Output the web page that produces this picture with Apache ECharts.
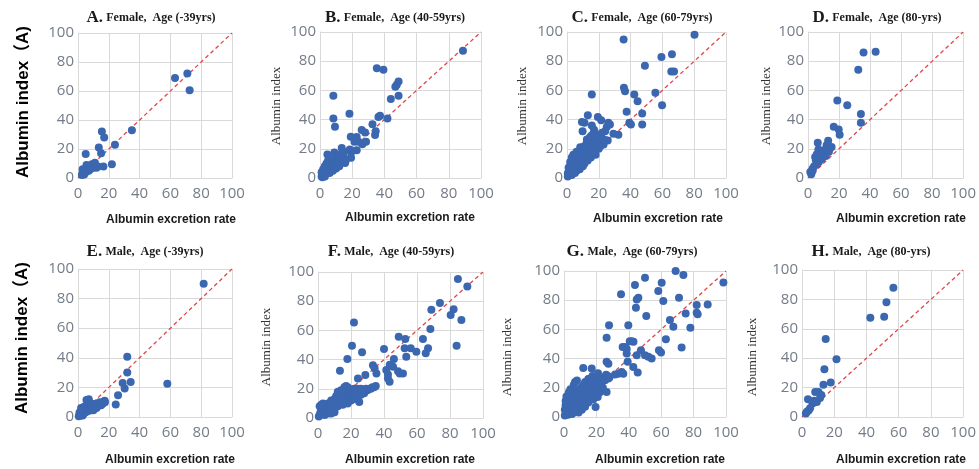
<!DOCTYPE html>
<html>
<head>
<meta charset="utf-8">
<script src="https://cdn.jsdelivr.net/npm/echarts@6/dist/echarts.min.js"></script>
<style>
  html, body { margin: 0; padding: 0; background: #fff; }
  #echart { width: 979px; height: 469px; }
</style>
</head>
<body>
<div id="echart"></div>
<script>
// panel titles
var panelLetters = ['A.', 'B.', 'C.', 'D.', 'E.', 'F.', 'G.', 'H.'];
var panelTitles = [
  'Female,  Age (-39yrs)', 'Female,  Age (40-59yrs)', 'Female,  Age (60-79yrs)', 'Female,  Age (80-yrs)',
  'Male,  Age (-39yrs)', 'Male,  Age (40-59yrs)', 'Male,  Age (60-79yrs)', 'Male,  Age (80-yrs)'
];
var axisTicks = [0, 20, 40, 60, 80, 100];
var identityLine = [[0, 0], [100, 100]];

// [albumin excretion rate, albumin index]
var femaleA = [[63, 69], [71, 72], [72.5, 60.5], [35, 33], [15.5, 32], [17, 28], [13.5, 21], [15, 17], [24, 23],
  [22, 9.5], [16.5, 8], [5, 16.5], [5.5, 9], [7, 8], [9, 9.5], [10.5, 9], [12, 7], [13, 8], [8, 6], [6, 5],
  [4, 5], [3, 3.5], [2.5, 2], [4, 2.5], [5, 4], [3, 6], [7, 5], [10, 7], [11, 10.5], [6, 7]];

var femaleB = [[88.8, 87.2], [35.3, 75.2], [39.4, 74.1], [48.8, 66.1], [47.7, 63.8], [46.8, 62.5], [48.8, 56.4],
  [44, 54.1], [8.3, 56.4], [8.3, 40.8], [9.3, 35.1], [18.3, 44], [37.3, 42.7], [36.3, 41.7], [41.9, 40.8],
  [32.6, 36.9], [25.9, 32.8], [28, 31.2], [34.6, 32.1], [34.2, 29.4], [19.1, 28.2], [22.8, 28], [21.4, 24.8],
  [23.9, 24.8], [26.3, 23.2], [28.6, 24.8], [19.3, 17.4], [22.8, 19], [18.5, 19.5], [4.6, 16.1], [8.9, 17.4],
  [13.5, 20.6], [14.5, 17.9], [10.4, 15.6], [15.6, 10.3], [19.3, 13.8],
  [1, 1], [1.5, 2.5], [2, 1.5], [2, 3.5], [2.5, 5], [3, 2], [3, 4], [3.5, 6], [4, 3], [4, 5], [4.5, 7.5], [5, 4],
  [5, 6], [5.5, 9], [6, 5], [6, 7], [6.5, 11], [7, 6], [7, 8.5], [7.5, 12], [8, 7], [8, 10], [8.5, 13], [9, 8],
  [9, 11], [9.5, 14.5], [10, 9], [10, 12], [11, 10], [11, 13], [11.5, 16], [12, 11], [12, 14], [13, 12], [13, 15],
  [14, 13], [14, 17], [15, 11], [15, 14], [16, 12], [3, 8], [4, 10], [5, 12], [2, 6], [1, 4], [6, 3.5], [8, 5],
  [10, 6.5], [12, 8], [1.5, 0.5], [3, 1]];

var femaleC = [[80.2, 98.2], [35.6, 94.9], [59.4, 82.8], [66, 84.8], [49, 76.8], [65.6, 72.9], [67.3, 72.9],
  [15.6, 57.2], [35.8, 61.8], [36.5, 59.5], [42.3, 57.2], [44.4, 52.6], [55.6, 58.4], [59.8, 49.9], [37.5, 45.3],
  [47.3, 44.1], [39.2, 37.9], [40.2, 36.6], [47.3, 36.6], [13.1, 43], [9.4, 38.4], [11, 37.9], [19.4, 41.8],
  [21.5, 39.5], [26, 37.9], [27, 36.6], [25, 35], [24, 32], [29.2, 30.3], [32.3, 29.7], [9.8, 32], [15.6, 36],
  [17, 33], [17.5, 31], [16.5, 28], [19.5, 29], [20.5, 25.5], [15.6, 29.2], [12.5, 26.4], [25.6, 25.7], [8.3, 21],
  [0.5, 1], [1, 2], [1, 4], [1.5, 6], [2, 3], [2, 8], [2.5, 10], [3, 2], [3, 5], [3, 12], [3.5, 7], [4, 4], [4, 9],
  [4.5, 14], [5, 3.5], [5, 6], [5, 11], [5.5, 16], [6, 5], [6, 8], [6.5, 13], [7, 7], [7, 10], [7.5, 18], [8, 6],
  [8, 12], [8.5, 15], [9, 9], [9, 20], [9.5, 11], [10, 8], [10, 14], [10.5, 17], [11, 10], [11, 22], [11.5, 13],
  [12, 16], [12, 19], [12.5, 25], [13, 12], [13, 21], [14, 15], [14, 18], [14.5, 28], [15, 14], [15, 24], [16, 17],
  [16, 20], [16.5, 30], [17, 19], [17, 23], [18, 16], [18, 26], [19, 21], [19, 29], [20, 20], [20, 24], [21, 22],
  [22, 27], [22, 31], [23, 23], [24, 26], [1, 7], [2, 11], [3, 14], [4, 16], [6, 18], [0.5, 3], [8, 9], [10, 11],
  [12, 13], [3, 9], [5, 8]];

var femaleD = [[35.8, 86], [43.6, 86.5], [32.4, 74.1], [18.9, 53], [25.3, 49.8], [34.1, 43.8], [34.1, 37.8],
  [16.6, 35.1], [19.8, 33.3], [20.4, 29.6], [6.3, 24.1], [13, 25.5], [15.2, 21.3], [14.1, 20.2], [12, 22.5],
  [9.9, 19], [7.8, 17.9], [5.7, 16.3], [4.6, 14.4], [8.8, 15.6], [10.9, 17.2], [6.7, 19.5], [5.1, 12.2],
  [5.7, 9.4], [2.9, 6.4], [1.5, 4.1], [2.1, 2.5], [11.5, 15], [13.5, 18], [9, 13], [7, 11], [4, 8], [3, 5]];

var maleE = [[81.6, 90], [32, 40.7], [32, 30], [29, 23], [30.3, 19.2], [34.2, 23.6], [58, 22.5], [26, 14.7],
  [24.5, 8.4], [5.5, 11.5], [17.3, 11],
  [0.5, 0.5], [1, 1.5], [1, 3], [1.5, 2], [2, 4], [2, 1], [2.5, 5], [3, 3], [3, 6], [3.5, 2], [4, 4], [4, 7],
  [4.5, 3], [5, 5], [5.5, 3.5], [6, 6], [6.5, 4], [7, 5], [7, 12], [7.5, 8], [8, 6], [8.5, 4.5], [9, 7], [9.5, 5],
  [10, 8], [10.5, 6], [11, 7], [11.5, 9], [12, 6], [12.5, 8], [13, 7.5], [14, 9], [15, 8], [16, 10], [17.5, 10],
  [16, 9], [3, 1], [2, 6], [6, 8], [8, 9.5], [12, 9], [14, 10], [10, 4.5]];

var maleF = [[84.8, 95.2], [90.5, 90.1], [73.9, 78.7], [68.7, 74.1], [82.2, 74.5], [80.4, 70.6], [86.9, 67.2],
  [68.1, 61], [84, 49.5], [63.6, 54.1], [66.7, 47.7], [65.3, 44.3], [48.9, 55.7], [52.9, 54.1], [52.5, 47.7],
  [56.2, 47.7], [59.6, 45.4], [53.5, 42], [40, 47.2], [21.8, 65.4], [20.6, 49.5], [26.7, 45], [17.8, 40.4],
  [13.3, 32.3], [33.3, 36.2], [34.3, 34], [35.4, 30.5], [41.4, 32.8], [42.4, 29.8], [46, 40.4], [45.5, 35.1],
  [43.5, 36.5], [48.5, 32], [49.5, 30.5], [42.4, 27], [43.4, 24.8], [51.5, 30.5], [28.7, 29.4], [24.2, 27],
  [0.5, 1], [1, 2], [1, 8], [1.5, 4], [2, 6], [2.5, 3], [3, 5], [3, 7.5], [4, 2], [4, 6], [4.5, 9], [5, 4], [5, 7],
  [6, 3], [6, 10], [6.5, 6], [7, 8], [7.5, 5], [8, 9], [8, 12], [9, 7], [9.5, 11], [10, 6], [10, 13], [11, 9],
  [11, 15], [12, 8], [12, 11], [13, 14], [13.5, 10], [14, 16], [14.5, 12], [15, 9], [15, 14], [16, 11], [16.5, 17],
  [17, 13], [17.5, 15], [18, 10], [18, 21], [19, 14], [19, 18], [20, 12], [20, 16], [21, 15], [21.5, 19], [22, 13],
  [23, 17], [24, 14], [24, 20], [25, 11], [26, 16], [27, 19], [28, 17], [29, 20], [30, 19], [31, 20], [32, 20],
  [33, 21], [34, 21], [35, 22], [16, 21], [14, 19], [12, 18], [8, 3], [10, 4], [2, 9], [3, 10], [22, 20],
  [20, 19.5], [17, 22], [26, 20]];

var maleG = [[68.9, 100], [73.7, 97.3], [50, 95.4], [60.3, 92], [98.4, 92.2], [43.8, 90.4], [35.2, 84],
  [45.9, 81.7], [44.9, 80.5], [58.2, 86.3], [61.3, 79.4], [71, 81.7], [44.4, 74.8], [81.9, 76.7], [88.7, 77.1],
  [82.5, 70.3], [81.9, 71.4], [75.1, 70.9], [50.8, 69.1], [65.4, 66.4], [67.5, 61.8], [78, 61.1], [27.8, 62.9],
  [39.7, 62.9], [26.3, 54.2], [41.8, 51.9], [40.6, 51.9], [42.9, 51.5], [37.7, 48], [38.7, 46.5], [36.2, 48],
  [47.5, 45.8], [38.7, 43.5], [58.6, 45.8], [59.9, 44.2], [62.9, 53.3], [72.6, 47.6], [50, 42.3], [52.1, 41.2],
  [54.1, 40], [44.9, 42.3], [39.3, 37.8], [42.8, 34.3], [45.5, 30.4], [26.3, 37.8], [27.4, 36.4], [35.6, 30.9],
  [36.6, 29.7], [33.5, 29.7], [31.5, 29.1], [27.4, 26.3], [25.3, 25.2], [11.9, 33.6], [17.1, 33.2], [6.8, 24],
  [19.5, 26.5], [21, 25.5], [15, 26], [22.2, 17.2], [20.8, 13.7], [19.5, 6.9], [26.3, 17.2],
  [0.5, 1], [0.5, 5], [1, 2], [1, 8], [1, 11], [1.5, 3], [1.5, 14], [2, 5], [2, 9], [2.5, 1.5], [2.5, 12], [3, 4],
  [3, 7], [3.5, 16], [4, 3], [4, 10], [4.5, 6], [5, 13], [5, 2], [5.5, 8], [6, 5], [6, 11], [6.5, 15], [7, 7],
  [7, 4], [7.5, 12], [8, 9], [8, 18], [9, 6], [9, 14], [9.5, 11], [10, 8], [10, 16], [10.5, 20], [11, 12], [11, 9],
  [12, 14], [12, 22], [12.5, 17], [13, 11], [13, 24], [14, 15], [14, 19], [15, 13], [15, 21], [15.5, 26], [16, 17],
  [16, 24], [17, 15], [17, 20], [17.5, 28], [18, 18], [18, 23], [19, 21], [19, 26], [20, 19], [20, 24], [21, 22],
  [21, 30], [22, 25], [23, 23], [24, 27], [25, 26], [26, 29], [27, 28], [28, 27], [6, 22], [8, 25], [4, 19],
  [3, 17], [2, 7], [9, 3], [11, 5], [13, 7], [15, 10], [18, 12], [22, 17], [24, 20]];

var maleH = [[56.7, 88], [52.4, 78], [51, 68.2], [42.4, 67.5], [14.7, 53], [21.4, 39.3], [13.9, 32.5],
  [13.3, 22], [17.8, 23.4], [8.2, 17], [10.2, 17], [11.2, 13], [9.2, 10.2], [6.5, 9.1], [3.7, 12],
  [4.1, 4.5], [2.4, 2.3], [3, 3.5], [5, 6], [7.5, 11], [12, 15]];

var panelData = [femaleA, femaleB, femaleC, femaleD, maleE, maleF, maleG, maleH];

var boxes = [
  [78, 33, 154, 145], [320, 32, 161, 146], [567, 32, 159, 146], [808, 32, 158, 146],
  [78, 269, 154, 148], [318, 272, 165, 146], [564, 271, 162, 146], [802, 270, 163, 147]
];
var titlePos = [[151, 18], [395, 18], [642, 18], [877, 18], [145, 252], [391, 252], [632, 252], [871, 252]];
var xNamePos = [[171, 220], [410, 218], [658, 219], [901, 219], [170, 460], [410, 460], [660, 460], [901, 460]];
var yNamePos = [null, [277, 106], [523, 106], [767, 106], null, [267, 347], [508, 357], [753, 357]];

var gridLine = '#d9d9d9';
var grids = [], xAxes = [], yAxes = [], series = [], graphics = [];

for (var i = 0; i < 8; i++) {
  var b = boxes[i];
  grids.push({ left: b[0], top: b[1], width: b[2], height: b[3] });
  var axisBase = {
    gridIndex: i,
    type: 'value',
    min: axisTicks[0],
    max: axisTicks[axisTicks.length - 1],
    interval: axisTicks[1] - axisTicks[0],
    axisLine: { show: true, lineStyle: { color: gridLine } },
    axisTick: { show: false },
    splitLine: { show: true, lineStyle: { color: gridLine, width: 1 } },
    axisLabel: { color: '#737c88', fontSize: 15, fontFamily: 'Open Sans' }
  };
  xAxes.push(Object.assign({}, axisBase, { axisLabel: Object.assign({}, axisBase.axisLabel, { margin: 8 }) }));
  yAxes.push(Object.assign({}, axisBase, { axisLabel: Object.assign({}, axisBase.axisLabel, { margin: 4 }) }));

  series.push({
    type: 'line',
    xAxisIndex: i, yAxisIndex: i,
    data: identityLine,
    showSymbol: false,
    silent: true,
    z: 1,
    lineStyle: { color: '#e0464a', width: 1.3, type: [4, 3] }
  });
  series.push({
    type: 'scatter',
    xAxisIndex: i, yAxisIndex: i,
    data: panelData[i],
    symbolSize: 8,
    z: 3,
    itemStyle: { color: '#3b67b1', opacity: 1 }
  });

  graphics.push({
    type: 'text',
    x: titlePos[i][0], y: titlePos[i][1],
    style: {
      text: '{k|' + panelLetters[i] + '} {t|' + panelTitles[i] + '}',
      align: 'center', verticalAlign: 'middle',
      rich: {
        k: { fontFamily: 'Liberation Serif', fontWeight: 'bold', fontSize: 17, fill: '#1a1a1a' },
        t: { fontFamily: 'Liberation Serif', fontWeight: 'bold', fontSize: 12, fill: '#1a1a1a' }
      }
    }
  });
  graphics.push({
    type: 'text',
    x: xNamePos[i][0], y: xNamePos[i][1],
    style: {
      text: 'Albumin excretion rate',
      font: 'bold 12px "Liberation Sans", Arial, sans-serif',
      fill: '#1a1a1a', align: 'center', verticalAlign: 'middle'
    }
  });
  if (yNamePos[i]) {
    graphics.push({
      type: 'text',
      x: yNamePos[i][0], y: yNamePos[i][1],
      rotation: Math.PI / 2,
      style: {
        text: 'Albumin index',
        font: '13px "Liberation Serif", serif',
        fill: '#333', align: 'center', verticalAlign: 'middle'
      }
    });
  }
}

// big row labels on the left
[[23, 102], [22, 338]].forEach(function (p) {
  graphics.push({
    type: 'text',
    x: p[0], y: p[1],
    rotation: Math.PI / 2,
    style: {
      text: 'Albumin index（A)',
      font: 'bold 17px "Liberation Sans", "Noto Sans CJK SC", sans-serif',
      fill: '#000', align: 'center', verticalAlign: 'middle'
    }
  });
});

var myChart = echarts.init(document.getElementById('echart'));
myChart.setOption({
  animation: false,
  backgroundColor: '#fff',
  grid: grids,
  xAxis: xAxes,
  yAxis: yAxes,
  series: series,
  graphic: graphics
});
window.addEventListener('resize', function () {
  myChart.resize();
});
</script>
</body>
</html>
